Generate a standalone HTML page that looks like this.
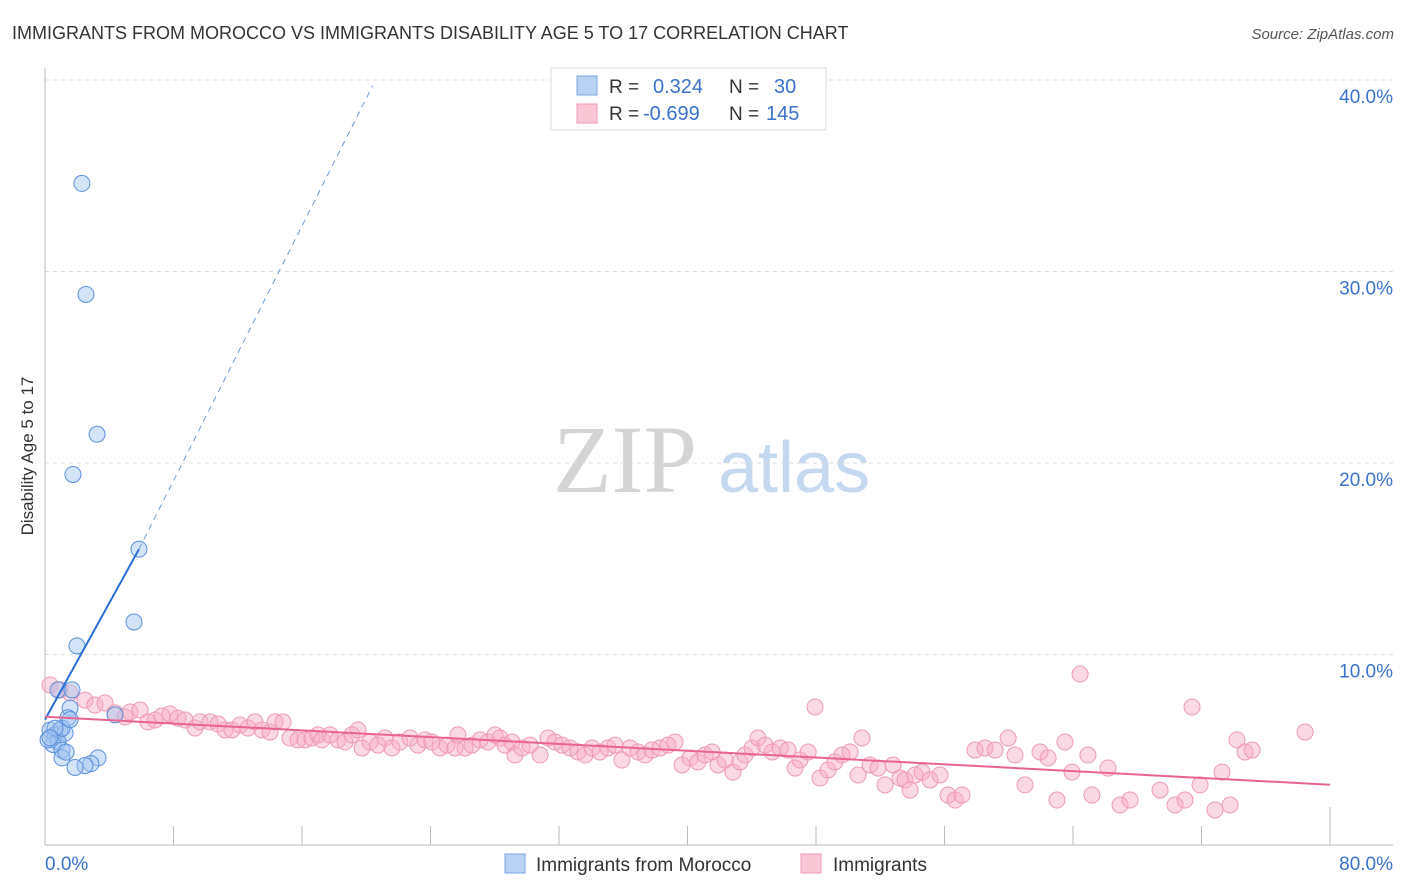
<!DOCTYPE html>
<html><head><meta charset="utf-8"><style>
body{margin:0;background:#fff;font-family:"Liberation Sans",sans-serif}
svg{display:block}
</style></head><body>
<svg id="chart" width="1406" height="892" xmlns="http://www.w3.org/2000/svg">
<text x="12" y="39" font-size="18" fill="#333">IMMIGRANTS FROM MOROCCO VS IMMIGRANTS DISABILITY AGE 5 TO 17 CORRELATION CHART</text>
<text x="1394" y="39" font-size="15" fill="#555" font-style="italic" text-anchor="end">Source: ZipAtlas.com</text>
<g>
<text x="553" y="492" font-family="Liberation Serif,serif" font-size="96" fill="#d4d4d4">ZIP</text>
<text x="718" y="492" font-size="72" fill="#c4d8f0">atlas</text>
</g>
<g id="grid"></g>
<g id="axes"></g>
<g id="pink"></g>
<g id="blue"></g>
<g id="trends"></g>
<text transform="translate(33,456) rotate(-90)" font-size="17" fill="#333" text-anchor="middle">Disability Age 5 to 17</text>
<g>
<rect x="551" y="68" width="275" height="62" fill="#fff" stroke="#ddd"/>
<rect x="577" y="76" width="20" height="19" fill="#b8d2f4" stroke="#7aa6e0"/>
<rect x="577" y="104" width="20" height="19" fill="#f9c6d5" stroke="#ee9ab4"/>
<text x="609" y="93" font-size="19" fill="#333">R =</text>
<text x="653" y="93" font-size="20" fill="#3a72cc">0.324</text>
<text x="729" y="93" font-size="19" fill="#333">N =</text>
<text x="774" y="93" font-size="20" fill="#3a72cc">30</text>
<text x="609" y="120" font-size="19" fill="#333">R =</text>
<text x="643" y="120" font-size="20" fill="#3a72cc">-0.699</text>
<text x="729" y="120" font-size="19" fill="#333">N =</text>
<text x="766" y="120" font-size="20" fill="#3a72cc">145</text>
</g>
<g>
<rect x="505" y="854" width="20" height="19" fill="#b8d2f4" stroke="#7aa6e0"/>
<text x="536" y="871" font-size="19" fill="#333">Immigrants from Morocco</text>
<rect x="801" y="854" width="20" height="19" fill="#f9c6d5" stroke="#ee9ab4"/>
<text x="833" y="871" font-size="19" fill="#333">Immigrants</text>
</g>
</svg>
<script>
const yTicks=[10,20,30,40];
const yTickLabels=["10.0%","20.0%","30.0%","40.0%"];
const xTicks=[0,8,16,24,32,40,48,56,64,72,80];
const blueX=[2.30,2.55,3.24,1.74,5.85,5.54,1.99,0.81,1.68,1.56,1.43,4.36,0.31,0.62,0.93,1.25,0.5,0.81,0.19,1.06,1.06,1.31,1.06,3.3,2.86,2.49,1.87,0.62,0.31,1.56];
const blueY=[34.6,28.8,21.5,19.4,15.5,11.7,10.45,8.15,8.15,7.2,6.7,6.85,6.05,5.8,6.05,5.9,5.3,5.45,5.55,5.0,4.6,4.9,6.15,4.6,4.3,4.2,4.1,6.15,5.65,6.6];
const pinkX=[0.31,0.93,1.56,2.49,3.11,3.74,4.36,4.98,5.29,5.92,6.41,6.85,7.28,7.78,8.28,8.72,9.34,9.65,10.27,10.77,11.21,11.64,12.14,12.64,13.07,13.51,14.01,14.32,14.82,15.25,15.75,16.19,16.62,17.0,17.24,17.74,18.24,18.68,19.11,19.49,19.74,20.23,20.73,21.17,21.6,22.1,22.72,23.22,23.66,24.09,24.59,25.03,25.53,25.71,26.15,26.58,27.08,27.58,28.02,28.33,28.64,29.07,29.26,29.7,30.2,30.82,31.32,31.75,32.19,32.69,33.18,33.62,34.06,34.55,35.05,35.49,35.92,36.42,36.92,37.36,37.79,38.29,38.79,39.22,39.66,40.16,40.65,41.09,41.53,41.9,42.34,42.83,43.27,43.58,44.02,44.39,44.83,45.27,45.77,46.26,46.7,47.0,47.51,47.94,48.25,48.75,49.18,49.62,50.12,50.62,50.86,51.36,51.86,52.3,52.8,53.23,53.54,53.86,54.17,54.6,55.1,55.72,56.22,56.66,57.09,57.9,58.52,59.15,59.96,60.39,61.01,61.95,62.45,63.0,63.5,63.94,64.44,64.93,65.18,66.18,66.93,67.55,69.42,70.35,70.97,71.41,71.91,72.84,73.28,73.78,74.21,74.71,75.15,78.45];
const pinkY=[8.41,8.15,7.99,7.62,7.36,7.47,6.95,6.74,7.0,7.1,6.48,6.58,6.79,6.89,6.68,6.58,6.16,6.48,6.48,6.37,6.06,6.06,6.32,6.16,6.48,6.06,5.95,6.48,6.48,5.64,5.54,5.54,5.64,5.8,5.54,5.8,5.54,5.43,5.8,6.06,5.12,5.43,5.27,5.64,5.12,5.43,5.64,5.27,5.54,5.43,5.12,5.27,5.12,5.8,5.12,5.27,5.54,5.43,5.8,5.64,5.27,5.43,4.75,5.12,5.27,4.75,5.64,5.43,5.27,5.12,4.91,4.75,5.12,4.91,5.12,5.27,4.49,5.12,4.91,4.75,5.01,5.12,5.27,5.43,4.23,4.6,4.39,4.75,4.91,4.23,4.49,3.86,4.39,4.75,5.12,5.64,5.27,4.91,5.12,5.01,4.07,4.49,4.91,7.26,3.55,3.97,4.39,4.75,4.91,3.71,5.64,4.23,4.07,3.19,4.23,3.55,3.45,2.92,3.71,3.86,3.45,3.71,2.66,2.4,2.66,5.01,5.12,5.01,5.64,4.75,3.19,4.91,4.6,2.4,5.43,3.86,8.98,4.75,2.66,4.07,2.14,2.4,2.92,2.14,2.4,7.26,3.19,1.88,3.86,2.14,5.54,4.91,5.01,5.95];
const blueTrend=[[0,6.6],[5.85,15.5],[20.4,39.7]];
const pinkTrend=[[0,6.75],[80,3.2]];
const X=v=>45+v/80*1285, Y=v=>846-v*19.15;
const NS="http://www.w3.org/2000/svg";
function mk(tag,parent,attrs){const e=document.createElementNS(NS,tag);for(const k in attrs)e.setAttribute(k,attrs[k]);document.getElementById(parent).appendChild(e);return e;}
yTicks.forEach((t,i)=>{
 const g=mk('line','grid',{x1:45,x2:1393,y1:Y(t),y2:Y(t),stroke:'#ddd','stroke-dasharray':'4,4'});
 
 
 const l=mk('text','grid',{x:1393,y:Y(t)+23,'font-size':19,fill:'#3a72cc','text-anchor':'end'});
 l.textContent=yTickLabels[i];
 
 
});
let a=mk('line','axes',{x1:45,x2:45,y1:68,y2:845,stroke:'#bbb'});


a=mk('line','axes',{x1:45,x2:1393,y1:845,y2:845,stroke:'#bbb'});


xTicks.forEach((t,i)=>{
 if(i===0)return;
 const k=mk('line','axes',{x1:X(t),x2:X(t),y1:i===xTicks.length-1?807:826,y2:845,stroke:'#bbb'});
 
 
});
let t0=mk('text','axes',{x:45,y:870,'font-size':19,fill:'#3a72cc'});t0.textContent='0.0%';


let t1=mk('text','axes',{x:1393,y:870,'font-size':19,fill:'#3a72cc','text-anchor':'end'});t1.textContent='80.0%';


pinkX.forEach((v,i)=>{
 if(pinkY[i]===undefined)return;
 const c=mk('circle','pink',{cx:X(v),cy:Y(pinkY[i]),r:8,fill:'rgba(246,170,195,0.45)',stroke:'#ee9ab4','stroke-width':1});
 
 
});
blueX.forEach((v,i)=>{
 const c=mk('circle','blue',{cx:X(v),cy:Y(blueY[i]),r:8,fill:'rgba(160,195,240,0.45)',stroke:'#5a90dc','stroke-width':1});
 
 
});
let b1=mk('line','trends',{x1:X(blueTrend[0][0]),y1:Y(blueTrend[0][1]),x2:X(blueTrend[1][0]),y2:Y(blueTrend[1][1]),stroke:'#2a6fd6','stroke-width':2});


let b2=mk('line','trends',{x1:X(blueTrend[1][0]),y1:Y(blueTrend[1][1]),x2:X(blueTrend[2][0]),y2:Y(blueTrend[2][1]),stroke:'#6a9ad8','stroke-width':1,'stroke-dasharray':'6,5'});


let p1=mk('line','trends',{x1:X(pinkTrend[0][0]),y1:Y(pinkTrend[0][1]),x2:X(pinkTrend[1][0]),y2:Y(pinkTrend[1][1]),stroke:'#e8648e','stroke-width':2});


</script>
</body></html>
